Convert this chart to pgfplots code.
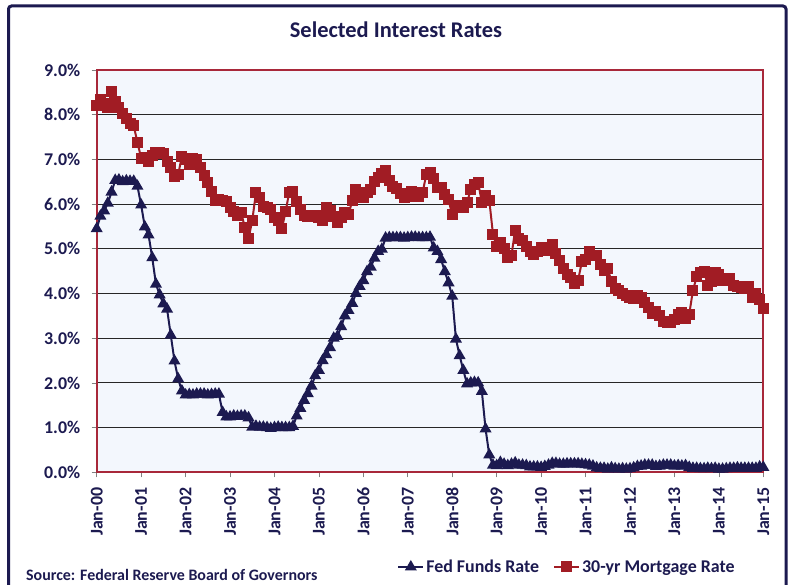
\documentclass[border=0pt]{standalone}
\usepackage{pgfplots}
\usepackage{pgfplotstable}
\pgfplotsset{compat=1.18}
\usepackage{fontspec}
\setmainfont{Carlito}
\definecolor{navy}{HTML}{1C1A50}
\definecolor{mred}{HTML}{A11C24}
\definecolor{bred}{HTML}{A8283A}
\definecolor{bgblue}{HTML}{F3F7FD}

\pgfplotstableread{
x ff mr
0 5.45 8.21
1 5.73 8.33
2 5.85 8.24
3 6.02 8.15
4 6.27 8.52
5 6.53 8.29
6 6.54 8.15
7 6.50 8.03
8 6.52 7.91
9 6.51 7.80
10 6.51 7.75
11 6.40 7.38
12 5.98 7.03
13 5.49 7.05
14 5.31 6.95
15 4.80 7.08
16 4.21 7.15
17 3.97 7.16
18 3.77 7.13
19 3.65 6.95
20 3.07 6.82
21 2.49 6.62
22 2.09 6.66
23 1.82 7.07
24 1.73 7.00
25 1.74 6.89
26 1.73 7.01
27 1.75 6.99
28 1.75 6.81
29 1.75 6.65
30 1.73 6.49
31 1.74 6.29
32 1.75 6.09
33 1.75 6.11
34 1.34 6.07
35 1.24 6.05
36 1.24 5.92
37 1.26 5.84
38 1.25 5.75
39 1.26 5.81
40 1.26 5.48
41 1.22 5.23
42 1.01 5.63
43 1.03 6.26
44 1.01 6.15
45 1.01 5.95
46 1.00 5.93
47 0.98 5.88
48 1.00 5.71
49 1.01 5.64
50 1.00 5.45
51 1.00 5.83
52 1.00 6.27
53 1.03 6.29
54 1.26 6.06
55 1.43 5.87
56 1.61 5.75
57 1.76 5.72
58 1.93 5.73
59 2.16 5.75
60 2.28 5.71
61 2.50 5.63
62 2.63 5.93
63 2.79 5.86
64 3.00 5.72
65 3.04 5.58
66 3.26 5.70
67 3.50 5.82
68 3.62 5.77
69 3.78 6.07
70 4.00 6.33
71 4.16 6.27
72 4.29 6.15
73 4.49 6.25
74 4.59 6.32
75 4.79 6.51
76 4.94 6.60
77 4.99 6.68
78 5.24 6.76
79 5.25 6.52
80 5.25 6.40
81 5.25 6.36
82 5.25 6.24
83 5.24 6.14
84 5.25 6.22
85 5.26 6.29
86 5.26 6.16
87 5.25 6.18
88 5.25 6.26
89 5.25 6.66
90 5.26 6.70
91 5.02 6.57
92 4.94 6.38
93 4.76 6.38
94 4.49 6.21
95 4.24 6.10
96 3.94 5.76
97 2.98 5.92
98 2.61 5.97
99 2.28 5.92
100 1.98 6.04
101 2.00 6.32
102 2.01 6.43
103 2.00 6.48
104 1.81 6.04
105 0.97 6.20
106 0.39 6.09
107 0.16 5.33
108 0.15 5.06
109 0.22 5.13
110 0.18 5.00
111 0.15 4.81
112 0.18 4.86
113 0.21 5.42
114 0.16 5.22
115 0.16 5.19
116 0.15 5.06
117 0.12 4.95
118 0.12 4.88
119 0.12 4.93
120 0.11 5.03
121 0.13 4.99
122 0.16 4.97
123 0.20 5.10
124 0.20 4.89
125 0.18 4.74
126 0.18 4.56
127 0.19 4.43
128 0.19 4.35
129 0.19 4.23
130 0.19 4.30
131 0.18 4.71
132 0.17 4.76
133 0.16 4.95
134 0.14 4.84
135 0.10 4.84
136 0.09 4.64
137 0.09 4.51
138 0.07 4.55
139 0.10 4.27
140 0.08 4.11
141 0.07 4.07
142 0.08 3.99
143 0.07 3.96
144 0.08 3.92
145 0.10 3.89
146 0.13 3.95
147 0.14 3.91
148 0.16 3.80
149 0.16 3.68
150 0.16 3.55
151 0.13 3.60
152 0.14 3.50
153 0.16 3.38
154 0.16 3.35
155 0.16 3.35
156 0.14 3.41
157 0.15 3.53
158 0.14 3.57
159 0.15 3.45
160 0.11 3.54
161 0.09 4.07
162 0.09 4.37
163 0.08 4.46
164 0.08 4.49
165 0.09 4.19
166 0.08 4.26
167 0.09 4.46
168 0.07 4.43
169 0.07 4.30
170 0.08 4.34
171 0.09 4.34
172 0.09 4.19
173 0.10 4.16
174 0.09 4.13
175 0.09 4.12
176 0.09 4.16
177 0.09 3.92
178 0.09 4.00
179 0.12 3.86
180 0.11 3.67
}\rates

\begin{document}
\begin{tikzpicture}[x=1bp,y=1bp]
\useasboundingbox (0,0) rectangle (791,585);
\fill[white] (0,0) rectangle (791,585);
\draw[navy, line width=3bp, rounded corners=3bp] (8.5,-20) -- (8.5,579) -- (786,579) -- (786,-20);
\node[anchor=base, font=\fontsize{22.5}{26}\selectfont\bfseries, text=navy] at (396,547.3) {Selected Interest Rates};
\node[anchor=base west, inner sep=0pt, font=\fontsize{16}{18}\selectfont\bfseries, text=navy] at (26,4) {Source: Federal Reserve Board of Governors};
\begin{axis}[
  at={(96.7bp,112.7bp)}, anchor=south west,
  scale only axis, width=666.6bp, height=402.3bp,
  xmin=0, xmax=180, ymin=0, ymax=9,
  xtick={0,12,...,180},
  xticklabels={Jan-00,Jan-01,Jan-02,Jan-03,Jan-04,Jan-05,Jan-06,Jan-07,Jan-08,Jan-09,Jan-10,Jan-11,Jan-12,Jan-13,Jan-14,Jan-15},
  ytick={0,1,...,9},
  yticklabel={\pgfmathprintnumber[fixed,fixed zerofill,precision=1]{\tick}\%},
  /pgf/number format/assume math mode=true,
  tick label style={font=\fontsize{18}{20}\selectfont\bfseries, text=navy},
  xticklabel style={rotate=90, anchor=east},
  yticklabel shift=8bp, xticklabel shift=7bp,
  xtick pos=left, ytick pos=left,
  tick align=outside, major tick length=5bp,
  tick style={gray, line width=0.6bp},
  ymajorgrids, grid style={black!85, line width=0.8bp},
  axis line style={draw=bred, line width=1.8bp},
  axis background/.style={fill=bgblue},
  clip=false,
  legend columns=2,
  legend style={at={(0.7055,-0.2354)}, anchor=center, draw=none, fill=none,
    font=\fontsize{18}{20}\selectfont\bfseries, text=navy,
    /tikz/every even column/.append style={column sep=12bp}},
  legend image code/.code={\draw[mark repeat=2,mark phase=2] plot coordinates {(0bp,0bp) (12.5bp,0bp) (25bp,0bp)};},
]
\addplot[navy, line width=2bp, mark=triangle*, mark size=5bp, mark options={solid, fill=navy}] table[x=x, y=ff] {\rates};
\addlegendentry{Fed Funds Rate}
\addplot[mred, line width=2bp, mark=square*, mark size=4.5bp, mark options={solid, fill=mred}] table[x=x, y=mr] {\rates};
\addlegendentry{30-yr Mortgage Rate}
\end{axis}
\end{tikzpicture}
\end{document}
